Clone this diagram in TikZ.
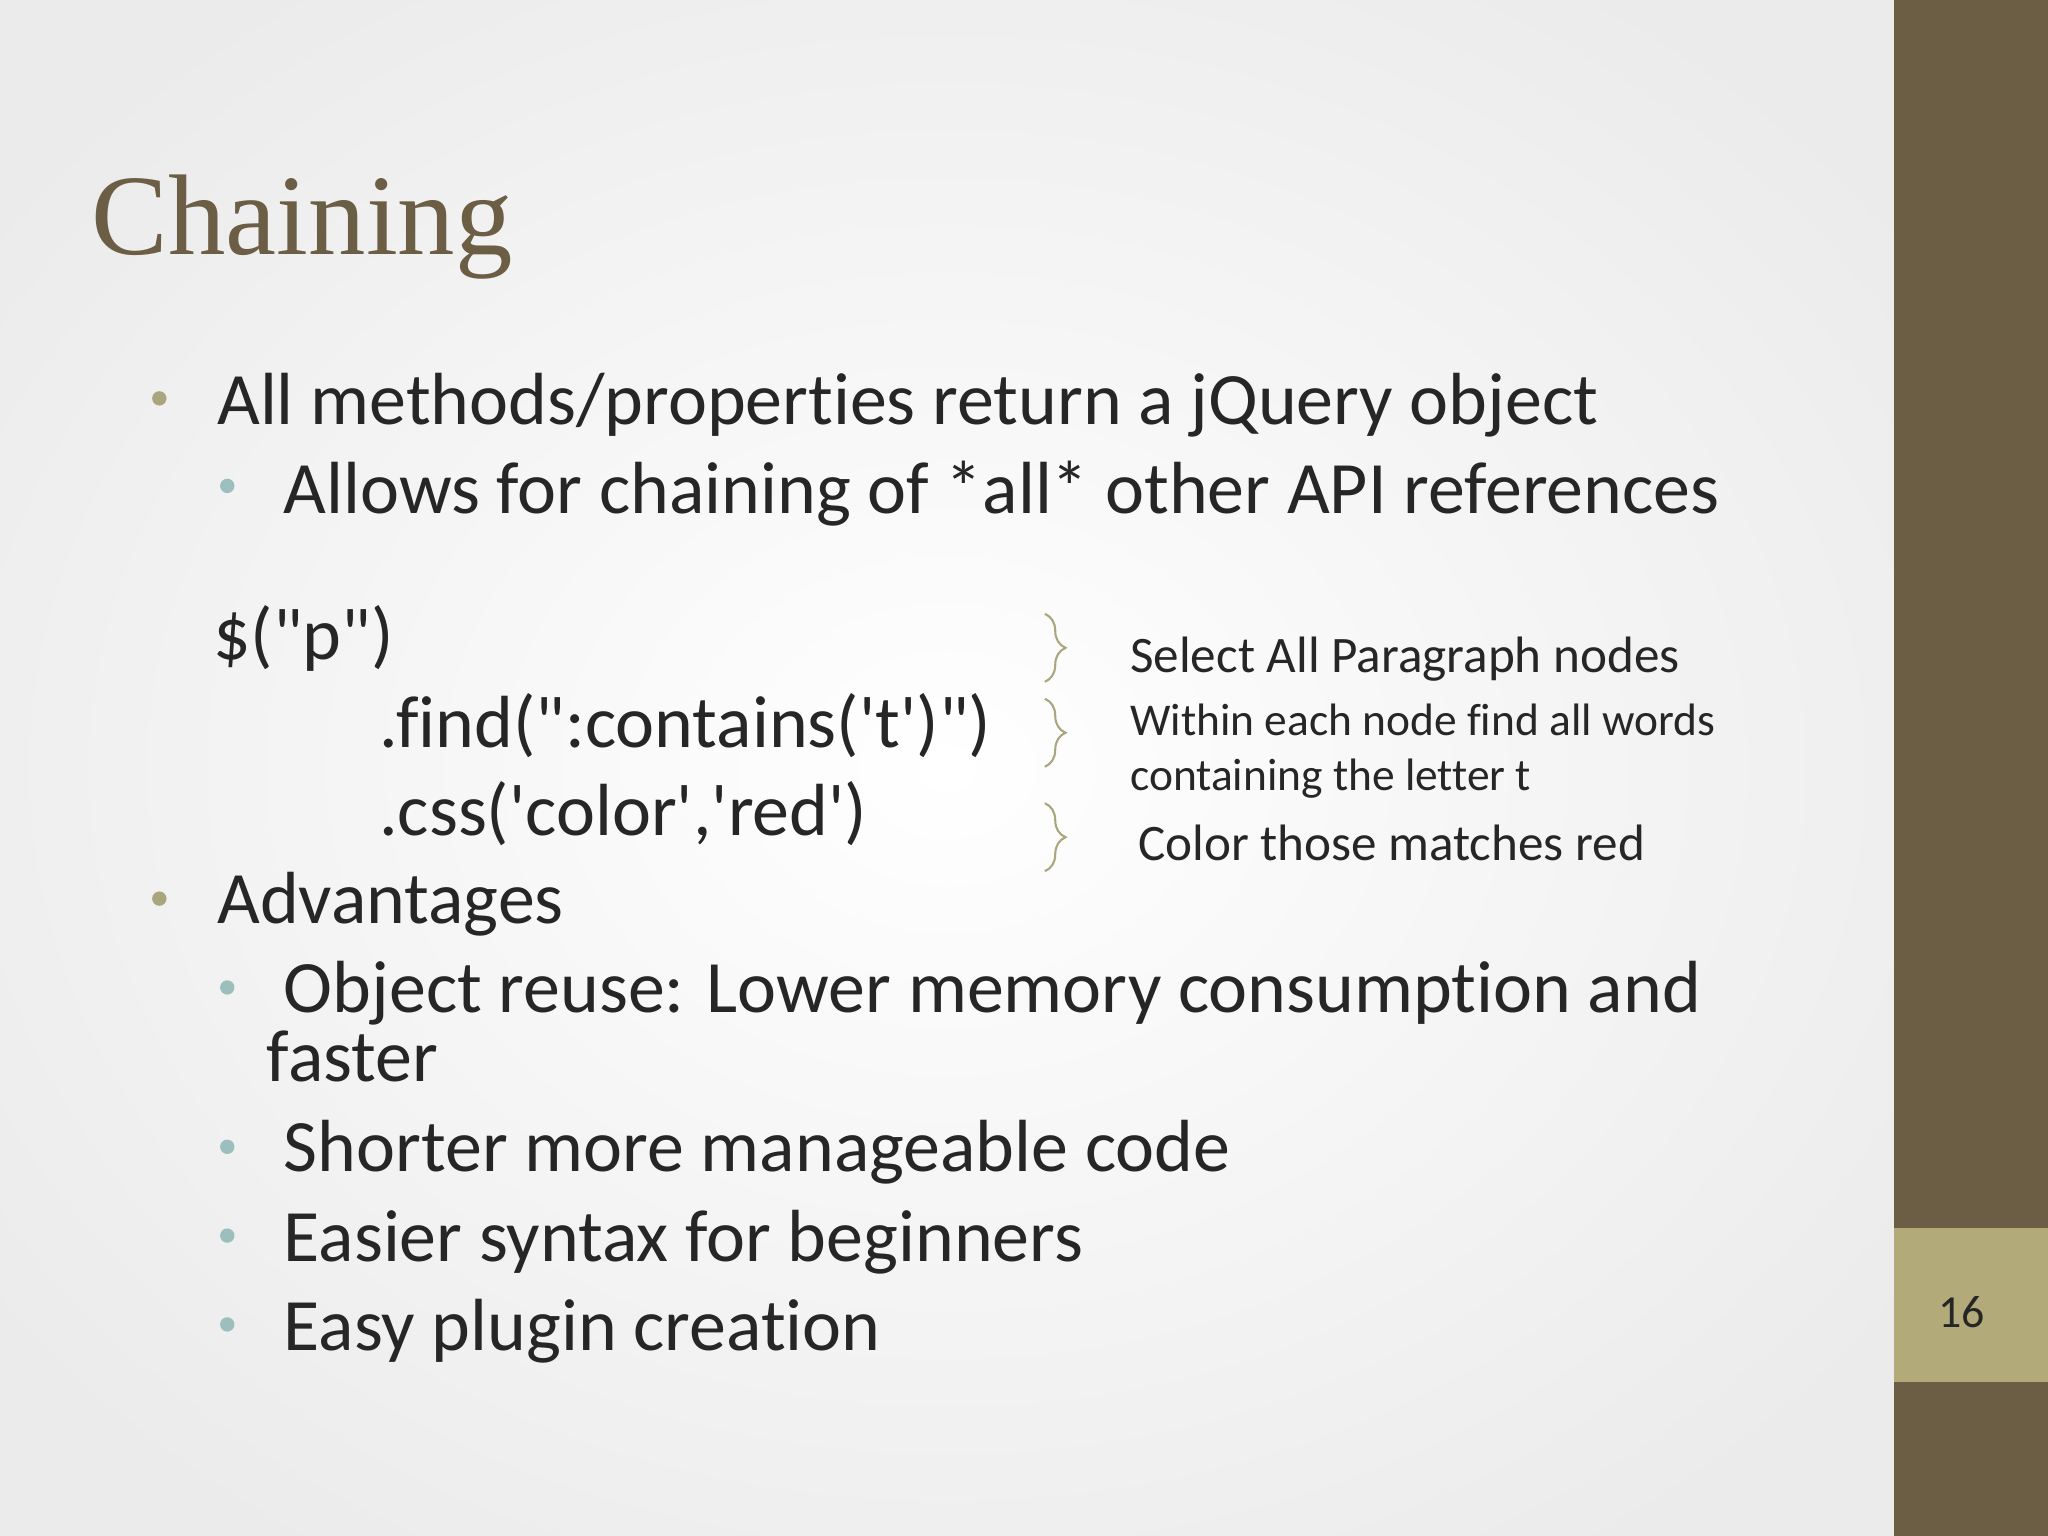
\documentclass[tikz,border=0pt]{standalone}
\usepackage{fontspec}
\setmainfont{Carlito}[Ligatures={TeXOff,NoCommon}]
\newfontfamily\titlefont{Liberation Serif}
\usetikzlibrary{decorations.pathreplacing}
\definecolor{barc}{HTML}{6B5E45}
\definecolor{numc}{HTML}{B3AA7A}
\definecolor{titc}{HTML}{6B5E45}
\definecolor{txt}{HTML}{262626}
\definecolor{b1}{HTML}{A9A57C}
\definecolor{b2}{HTML}{9CBEBD}
\tikzset{
 t/.style={anchor=base west,inner sep=0,text=txt,font=\fontsize{32.2}{38}\selectfont},
 nt/.style={anchor=base west,inner sep=0,text=txt,font=\fontsize{22.3}{26}\selectfont},
 ns/.style={anchor=base west,inner sep=0,text=txt,font=\fontsize{19.8}{24}\selectfont},
 bra/.style={draw=b1,line width=0.9pt,decorate,decoration={brace,amplitude=9pt}},
}
\begin{document}
\begin{tikzpicture}[x=0.02cm,y=-0.02cm]
\useasboundingbox (0,0) rectangle (1568,1176);
\shade[inner color=white,outer color=black!8] (-200,-150) rectangle (1650,1326);
\fill[barc] (1450,0) rectangle (1568,1176);
\fill[numc] (1450,940) rectangle (1568,1058);
\node[inner sep=0,anchor=base,text=txt,font=\fontsize{20}{24}\selectfont] (pn) at (1502,1016) {16};
\node[anchor=base west,inner sep=0,text=titc,font=\titlefont\fontsize{50}{56}\selectfont] (title) at (70,195) {Chaining};
\fill[b1] (122,305) circle (5.5);
\fill[b2] (174,372) circle (5.5);
\fill[b1] (122,688) circle (5.5);
\foreach \y in {756,878,946,1014} \fill[b2] (174,\y) circle (5.5);
\node[t] (l1) at (166,325) {All methods/properties return a jQuery object};
\node[t] (l2) at (217,393) {Allows for chaining of *all* other API references};
\node[t] (c1) at (163,505) {\$("p")};
\node[t] (c2) at (290,572) {.find(":contains('t')")};
\node[t] (c3) at (290,640) {.css('color','red')};
\node[t] (l3) at (166,707) {Advantages};
\node[t] (l4) at (217,775) {Object reuse: Lower memory consumption and};
\node[t] (l4b) at (204,828) {faster};
\node[t] (l5) at (217,897) {Shorter more manageable code};
\node[t] (l6) at (217,966) {Easier syntax for beginners};
\node[t] (l7) at (217,1034) {Easy plugin creation};
\draw[bra] (800,470) -- (800,522);
\draw[bra] (800,535) -- (800,587);
\draw[bra] (800,615) -- (800,667);
\node[nt] (n1) at (865,515) {Select All Paragraph nodes};
\node[ns] (n2) at (865,563) {Within each node find all words};
\node[ns] (n2b) at (865,605) {containing the letter t};
\node[nt] (n3) at (871,659) {Color those matches red};
\end{tikzpicture}
\end{document}
